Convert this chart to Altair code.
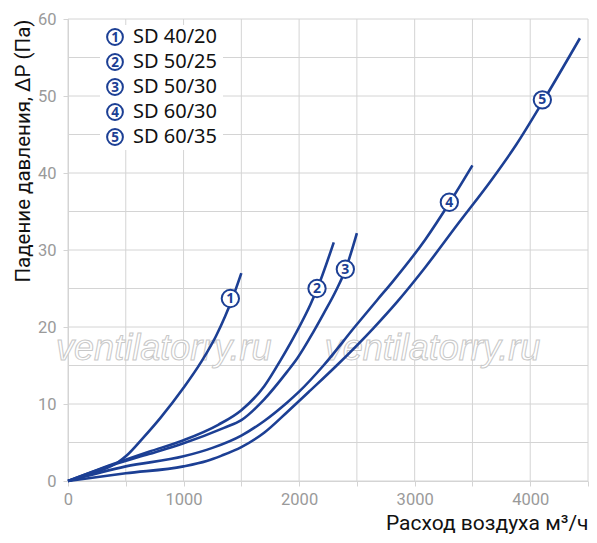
import altair as alt
import pandas as pd

# ---- data ----
names = ["SD 40/20", "SD 50/25", "SD 50/30", "SD 60/30", "SD 60/35"]
nums = ["1", "2", "3", "4", "5"]

c1_x = [0, 250, 430, 500, 650, 800, 1000, 1150, 1280, 1360, 1420, 1500]
c1_y = [0, 1.2, 2.4, 3.2, 5.6, 8.2, 12.1, 15.4, 18.8, 21.4, 23.6, 27.0]
c2_x = [0, 430, 700, 1000, 1300, 1500, 1698, 1840, 1983, 2097, 2155, 2300]
c2_y = [0, 2.4, 3.8, 5.3, 7.3, 9.2, 12.3, 15.7, 19.5, 22.9, 24.9, 31.0]
c3_x = [0, 430, 700, 1000, 1350, 1500, 1698, 1897, 1983, 2125, 2211, 2325, 2400, 2500]
c3_y = [0, 2.3, 3.5, 4.9, 6.9, 7.9, 10.6, 14.2, 15.9, 19.4, 21.7, 24.9, 27.4, 32.2]
c4_x = [0, 500, 1000, 1250, 1500, 1698, 1897, 2000, 2211, 2481, 2681, 2810, 3094, 3300, 3500]
c4_y = [0, 1.9, 3.2, 4.3, 5.9, 7.8, 10.2, 11.6, 15.0, 20.0, 23.6, 25.9, 31.4, 36.1, 41.0]
c5_x = [0, 500, 1000, 1200, 1330, 1500, 1700, 1900, 2100, 2325, 2640, 2850, 3094, 3380, 3660, 3880, 4110, 4430]
c5_y = [0, 1.0, 1.9, 2.6, 3.3, 4.4, 6.3, 9.0, 11.8, 15.0, 19.8, 23.3, 27.8, 33.5, 39.0, 43.7, 49.3, 57.5]

label_x = [1405, 2155, 2400, 3300, 4105]
label_y = [23.7, 25.0, 27.5, 36.2, 49.5]

x_grid = list(range(0, 4501, 500))
y_grid = list(range(0, 61, 5))
x_ticks = list(range(0, 4501, 500))
y_ticks = list(range(0, 61, 10))

watermark_x = [829, 3154]
watermark_y = [15.7, 15.7]
watermark_text = "ventilatorry.ru"

# ---- tables ----
series = [(c1_x, c1_y), (c2_x, c2_y), (c3_x, c3_y), (c4_x, c4_y), (c5_x, c5_y)]
rows = []
for name, (xs_, ys_) in zip(names, series):
    for i, (xv, yv) in enumerate(zip(xs_, ys_)):
        rows.append({"name": name, "q": xv, "dp": yv, "i": i})
curves = pd.DataFrame(rows)
labels = pd.DataFrame({"q": label_x, "dp": label_y, "num": nums})
legend = pd.DataFrame({"name": names, "num": nums})
wm = pd.DataFrame({"q": watermark_x, "dp": watermark_y, "t": [watermark_text] * 2})

BLUE = "#1c3f94"
GRID = "#d4d4d4"
FONT = "Noto Sans"
AXFONT = "Roboto"

xs = alt.Scale(domain=[0, 4500], nice=False, zero=False)
ys = alt.Scale(domain=[0, 60], nice=False, zero=False)

xaxis = alt.Axis(values=x_ticks, format="d",
                 labelExpr="datum.value % 1000 == 0 ? datum.label : ''",
                 grid=False, tickSize=5, tickColor=GRID, domainColor=GRID,
                 labelColor="#9a9a9a", labelFontSize=16.5, labelFont=AXFONT, labelPadding=5,
                 title="Расход воздуха м³/ч", titleFont=AXFONT, titleFontSize=21,
                 titleFontWeight="normal", titleColor="#111", titleAnchor="end",
                 titlePadding=4.5, labelFlush=False)
yaxis = alt.Axis(values=y_ticks, grid=False, tickSize=5, tickColor=GRID, domainColor=GRID,
                 labelColor="#9a9a9a", labelFontSize=16.5, labelFont=AXFONT, labelPadding=7,
                 title="Падение давления, ΔP (Па)", titleFont=AXFONT, titleFontSize=20.5,
                 titleFontWeight="normal", titleColor="#111", titleAnchor="end",
                 titlePadding=4, labelFlush=False)

gx = alt.Chart(pd.DataFrame({"g": x_grid})).mark_rule(color=GRID, strokeWidth=1).encode(
    x=alt.X("g:Q", scale=xs, axis=xaxis))
gy = alt.Chart(pd.DataFrame({"g": y_grid})).mark_rule(color=GRID, strokeWidth=1).encode(
    y=alt.Y("g:Q", scale=ys, axis=yaxis))

wmark = alt.Chart(wm).mark_text(font="Liberation Sans", fontSize=36, fontStyle="italic",
                                fill="white", stroke="#c8c8c8", strokeWidth=1,
                                baseline="alphabetic", align="center").encode(
    x=alt.X("q:Q", scale=xs), y=alt.Y("dp:Q", scale=ys), text="t:N")

lines = alt.Chart(curves).mark_line(color=BLUE, strokeWidth=2.6, interpolate="monotone").encode(
    x=alt.X("q:Q", scale=xs), y=alt.Y("dp:Q", scale=ys), detail="name:N", order="i:Q")

lab_c = alt.Chart(labels).mark_point(shape="circle", fill="white", fillOpacity=1, opacity=1,
                                     stroke=BLUE, strokeWidth=2, size=300).encode(
    x=alt.X("q:Q", scale=xs), y=alt.Y("dp:Q", scale=ys))
lab_t = alt.Chart(labels).mark_text(color=BLUE, font=FONT, fontSize=14, fontWeight="bold",
                                    baseline="middle", align="center", dy=0.5).encode(
    x=alt.X("q:Q", scale=xs), y=alt.Y("dp:Q", scale=ys), text="num:N")

# legend (drawn as marks in the top-left corner)
leg_scale = alt.Scale(type="point", domain=names, range=[18, 118], padding=0)
leg_bg = alt.Chart(pd.DataFrame({"a": [0]})).mark_rect(color="white").encode(
    x=alt.value(32), x2=alt.value(155), y=alt.value(6), y2=alt.value(131))
leg_c = alt.Chart(legend).mark_point(shape="circle", fill="white", fillOpacity=1, opacity=1,
                                     stroke=BLUE, strokeWidth=2, size=250).encode(
    x=alt.value(47), y=alt.Y("name:N", scale=leg_scale, axis=None))
leg_n = alt.Chart(legend).mark_text(color=BLUE, font=FONT, fontSize=13.5, fontWeight="bold",
                                    baseline="middle", align="center", dy=0.5).encode(
    x=alt.value(47), y=alt.Y("name:N", scale=leg_scale, axis=None), text="num:N")
leg_t = alt.Chart(legend).mark_text(color="#111", font=FONT, fontSize=20,
                                    baseline="middle", align="left").encode(
    x=alt.value(65), y=alt.Y("name:N", scale=leg_scale, axis=None), text="name:N")

main = alt.layer(gx, gy, wmark, lines, lab_c, lab_t)
leg = alt.layer(leg_bg, leg_c, leg_n, leg_t)

chart = alt.layer(main, leg).resolve_scale(y="independent").properties(
    width=520, height=462,
    autosize=alt.AutoSizeParams(type="none"),
    padding={"left": 60, "top": 11, "right": 1, "bottom": 54},
).configure_view(stroke=None)

chart.save("out.html", embed_options={"renderer": "svg", "actions": False})
